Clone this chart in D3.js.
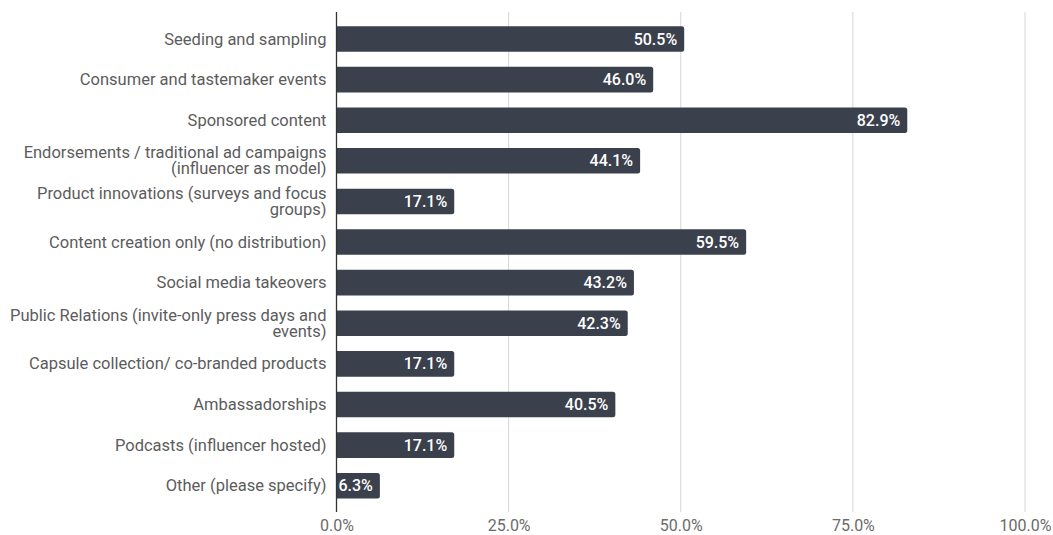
<!DOCTYPE html>
<html>
<head>
<meta charset="utf-8">
<script src="https://cdn.jsdelivr.net/npm/d3@7"></script>
<style>
  html, body { margin: 0; padding: 0; background: #fff; }
  svg { display: block; font-family: Roboto, "Noto Sans", sans-serif; }
</style>
</head>
<body>
<svg id="chart" width="1053" height="535"></svg>
<script>
// Activation types used in influencer programs (share of respondents)
const categories = [
  "Seeding and sampling",
  "Consumer and tastemaker events",
  "Sponsored content",
  "Endorsements / traditional ad campaigns\n(influencer as model)",
  "Product innovations (surveys and focus\ngroups)",
  "Content creation only (no distribution)",
  "Social media takeovers",
  "Public Relations (invite-only press days and\nevents)",
  "Capsule collection/ co-branded products",
  "Ambassadorships",
  "Podcasts (influencer hosted)",
  "Other (please specify)"
];
const values = [50.5, 46.0, 82.9, 44.1, 17.1, 59.5, 43.2, 42.3, 17.1, 40.5, 17.1, 6.3];
const tickValues = [0, 25, 50, 75, 100];

const svg = d3.select("#chart");
const plotLeft = 336.5, plotRight = 1025, plotTop = 12, plotBottom = 512;

const x = d3.scaleLinear().domain([0, 100]).range([plotLeft, plotRight]);
const y = d3.scaleBand().domain(categories).range([18.7, 506]).paddingInner(0.37).paddingOuter(0.185);

// vertical gridlines
svg.append("g").selectAll("line").data(tickValues.slice(1)).join("line")
  .attr("x1", d => x(d)).attr("x2", d => x(d))
  .attr("y1", plotTop).attr("y2", plotBottom)
  .attr("stroke", "#d6d6d6").attr("stroke-width", 1);

// x axis tick labels
const xAxis = d3.axisBottom(x).tickValues(tickValues).tickSize(0).tickPadding(0)
  .tickFormat(d => d.toFixed(1) + "%");
const gx = svg.append("g").attr("transform", `translate(0,${plotBottom + 14})`).call(xAxis);
gx.select(".domain").remove();
gx.selectAll("text").attr("font-size", 16).attr("fill", "#6b6b6b")
  .attr("font-family", "Roboto, sans-serif").attr("dy", "0.33em");

// bars with rounded right end
const r = 2.5;
svg.append("g").selectAll("path").data(values).join("path")
  .attr("fill", "#3b404d")
  .attr("d", (d, i) => {
    const x0 = x(0), x1 = x(d), y0 = y(categories[i]), h = y.bandwidth();
    return `M${x0},${y0}H${x1 - r}Q${x1},${y0} ${x1},${y0 + r}V${y0 + h - r}Q${x1},${y0 + h} ${x1 - r},${y0 + h}H${x0}Z`;
  });

// value labels inside bar ends
svg.append("g").selectAll("text").data(values).join("text")
  .attr("x", d => x(d) - 7)
  .attr("y", (d, i) => y(categories[i]) + y.bandwidth() / 2)
  .attr("dy", "0.35em")
  .attr("text-anchor", "end")
  .attr("font-size", 16).attr("font-weight", 500)
  .attr("fill", "#ffffff")
  .text(d => d.toFixed(1) + "%");

// category labels
const labelX = plotLeft - 10;
const lab = svg.append("g").selectAll("text").data(categories).join("text")
  .attr("x", labelX)
  .attr("y", d => y(d) + y.bandwidth() / 2)
  .attr("text-anchor", "end")
  .attr("font-size", 16.5)
  .attr("fill", "#5c5c5c");
lab.each(function(d) {
  const lines = d.split("\n");
  const t = d3.select(this);
  const lh = 16;
  lines.forEach((ln, k) => {
    t.append("tspan")
      .attr("x", labelX)
      .attr("dy", k === 0 ? (5.6 - (lines.length - 1) * lh / 2) : lh)
      .text(ln);
  });
});

// vertical axis line
svg.append("line")
  .attr("x1", x(0)).attr("x2", x(0)).attr("y1", plotTop).attr("y2", plotBottom)
  .attr("stroke", "#333").attr("stroke-width", 1.3);
</script>
</body>
</html>
